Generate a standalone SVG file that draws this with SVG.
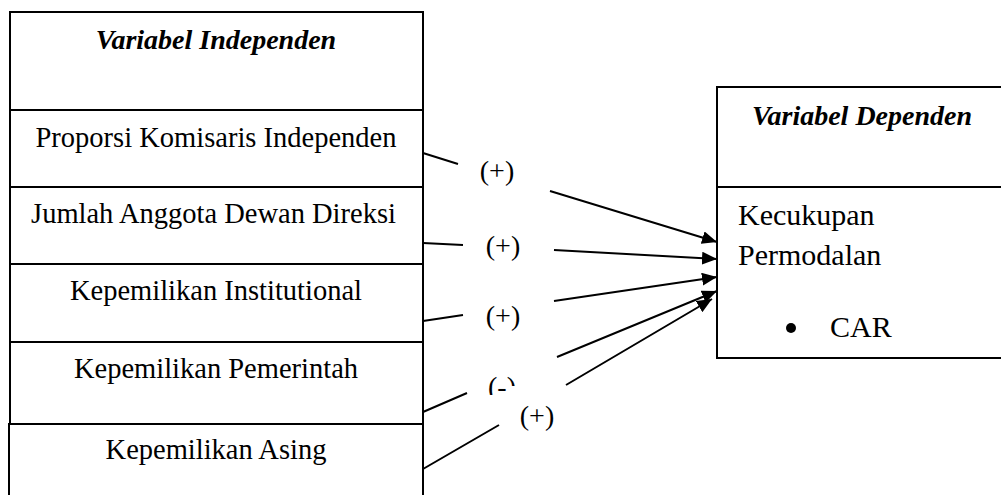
<svg xmlns="http://www.w3.org/2000/svg" width="1001" height="495" viewBox="0 0 1001 495">
  <defs>
    <style>
      .box { fill: #ffffff; stroke: #000000; stroke-width: 2; }
      .t { font-family: "Liberation Serif", "Times New Roman", serif; font-size: 28.5px; fill: #000000; }
      .h { font-family: "Liberation Serif", "Times New Roman", serif; font-size: 28px; font-weight: bold; font-style: italic; fill: #000000; }
      .r { font-family: "Liberation Serif", "Times New Roman", serif; font-size: 30px; fill: #000000; }
      .lbl { font-family: "Liberation Serif", "Times New Roman", serif; font-size: 28px; fill: #000000; text-anchor: middle; }
      .mid { text-anchor: middle; }
      .conn { fill: none; stroke: #000000; stroke-width: 2; marker-end: url(#arrow); }
    </style>
    <marker id="arrow" markerUnits="userSpaceOnUse" markerWidth="16" markerHeight="13" refX="15" refY="6.5" orient="auto">
      <path d="M0,0 L15,6.5 L0,13 z" fill="#000000"/>
    </marker>
    <clipPath id="clipMinus">
      <path d="M440,340 L600,340 L600,386 L507,386 L507,395 L440,395 z"/>
    </clipPath>
  </defs>

  <g id="independen-header">
    <rect class="box" x="10" y="12" width="413" height="98"/>
    <text class="h mid" x="216" y="49">Variabel Independen</text>
  </g>
  <g id="proporsi-komisaris">
    <rect class="box" x="10" y="110" width="413" height="77"/>
    <text class="t mid" x="216" y="147">Proporsi Komisaris Independen</text>
  </g>
  <g id="jumlah-dewan-direksi">
    <rect class="box" x="10" y="187" width="413" height="77"/>
    <text class="t mid" x="213.5" y="223">Jumlah Anggota Dewan Direksi</text>
  </g>
  <g id="kepemilikan-institutional">
    <rect class="box" x="10" y="264" width="413" height="78"/>
    <text class="t mid" x="216" y="300">Kepemilikan Institutional</text>
  </g>
  <g id="kepemilikan-pemerintah">
    <rect class="box" x="10" y="342" width="413" height="82"/>
    <text class="t mid" x="216" y="378">Kepemilikan Pemerintah</text>
  </g>
  <g id="kepemilikan-asing">
    <rect class="box" x="9" y="424" width="414" height="80"/>
    <text class="t mid" x="216" y="459">Kepemilikan Asing</text>
  </g>

  <g id="dependen-header">
    <rect class="box" x="717" y="87" width="300" height="100"/>
    <text class="h mid" x="862" y="125">Variabel Dependen</text>
  </g>
  <g id="kecukupan-permodalan">
    <rect class="box" x="717" y="187" width="300" height="171"/>
    <text class="r" x="738" y="225">Kecukupan</text>
    <text class="r" x="738" y="265">Permodalan</text>
    <circle cx="791" cy="328" r="5" fill="#000000"/>
    <text class="r" x="830" y="337">CAR</text>
  </g>

  <g id="connectors">
    <path class="conn" d="M423,153 L458,164 M550,191 L717,242"/>
    <path class="conn" d="M423,243 L463,245 M554,250 L717,259"/>
    <path class="conn" d="M423,321 L463,315 M554,301 L717,277"/>
    <path class="conn" d="M423,412 L467,393 M557,357 L717,291"/>
    <path class="conn" d="M423,469 L499,425 M566,385 L712,299"/>
    <text class="lbl" x="497" y="180">(+)</text>
    <text class="lbl" x="503" y="255">(+)</text>
    <text class="lbl" x="503" y="325">(+)</text>
    <text class="lbl" x="502" y="396" clip-path="url(#clipMinus)">(-)</text>
    <text class="lbl" x="537" y="425">(+)</text>
  </g>
</svg>
